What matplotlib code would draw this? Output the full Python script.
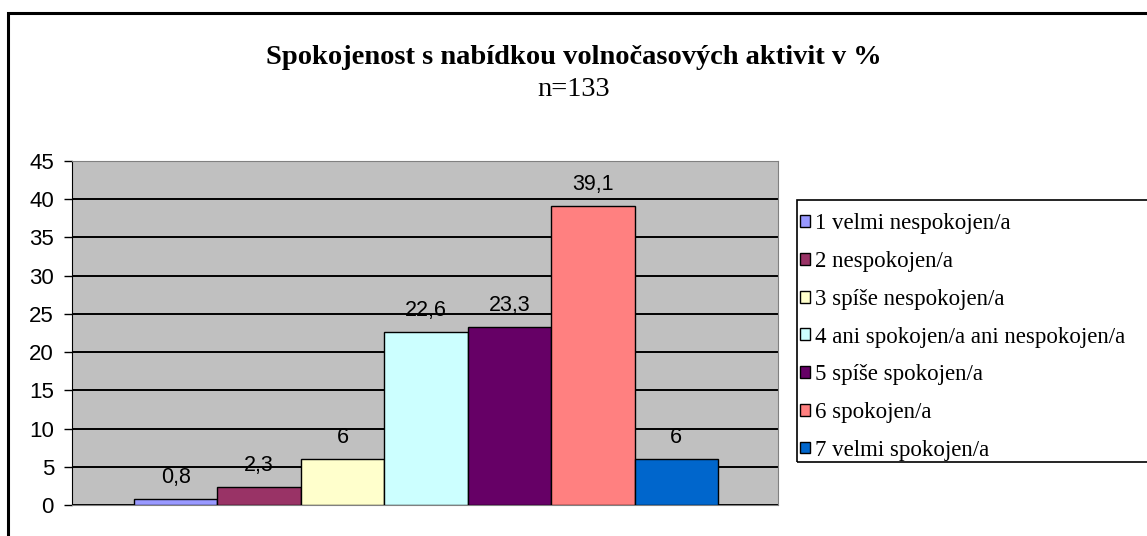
import numpy as np
import matplotlib.pyplot as plt
from matplotlib.patches import Rectangle

# data
categories = ["1 velmi nespokojen/a", "2 nespokojen/a", "3 spíše nespokojen/a",
              "4 ani spokojen/a ani nespokojen/a", "5 spíše spokojen/a",
              "6 spokojen/a", "7 velmi spokojen/a"]
values = [0.8, 2.3, 6, 22.6, 23.3, 39.1, 6]
colors = ["#9999FF", "#993366", "#FFFFCC", "#CCFFFF", "#660066", "#FF8080", "#0066CC"]

title = "Spokojenost s nabídkou volnočasových aktivit v %"
subtitle = "n=133"

W, H = 1147, 536
fig = plt.figure(figsize=(W / 100, H / 100), dpi=100)

def px(x0, y0, x1, y1):
    # pixel box (top-left origin) -> figure fraction rect
    return [x0 / W, 1 - y1 / H, (x1 - x0) / W, (y1 - y0) / H]

# outer chart frame (runs past the right and bottom edges)
fig.patches.append(Rectangle((8 / W, -0.1), 1.2, 1 - 13 / H + 0.1, transform=fig.transFigure,
                             fill=False, edgecolor="black", linewidth=2.2))

ax = fig.add_axes(px(72, 161, 778, 505))
ax.set_facecolor("#C0C0C0")

x = np.arange(len(values))
bars = ax.bar(x, values, width=1.0, color=colors, edgecolor="black", linewidth=1.0,
              label=categories, zorder=3)

for xi, v in zip(x, values):
    ax.annotate(f"{v:g}".replace(".", ","), (xi, v), xytext=(0, 8), textcoords="offset points",
                ha="center", va="bottom", fontsize=15.5, family="Liberation Sans", zorder=4)

ax.set_xlim(-1.243, 7.22)
ax.set_ylim(0, 45)
ax.set_yticks(range(0, 46, 5))
ax.yaxis.grid(True, color="black", linewidth=1.4, zorder=1)
ax.set_xticks([])
ax.tick_params(axis="y", direction="out", length=6, width=1, pad=7, labelsize=16)
for t in ax.get_yticklabels():
    t.set_family("Liberation Sans")
ax.spines["left"].set_color("black")
ax.spines["bottom"].set_color("#808080")
ax.spines["top"].set_color("#808080")
ax.spines["right"].set_color("#808080")

fig.text(0.5, 1 - 57 / H, title, ha="center", va="center", fontsize=20.5, fontweight="bold",
         family="Liberation Serif")
fig.text(0.5, 1 - 90 / H, subtitle, ha="center", va="center", fontsize=20.5,
         family="Liberation Serif")

# legend frame (also runs past the right edge)
fig.patches.append(Rectangle((797 / W, 1 - 462 / H), 0.5, 262 / H, transform=fig.transFigure,
                             fill=False, edgecolor="black", linewidth=1.2))
fig.legend(handles=list(bars), labels=categories, loc="center left",
           bbox_to_anchor=(800 / W, 1 - 337 / H), frameon=False,
           prop={"family": "Liberation Serif", "size": 16.5},
           handlelength=0.42, handleheight=0.42, handletextpad=0.25,
           labelspacing=0.73, borderpad=0, borderaxespad=0)

fig.savefig("out.png", dpi=100)
